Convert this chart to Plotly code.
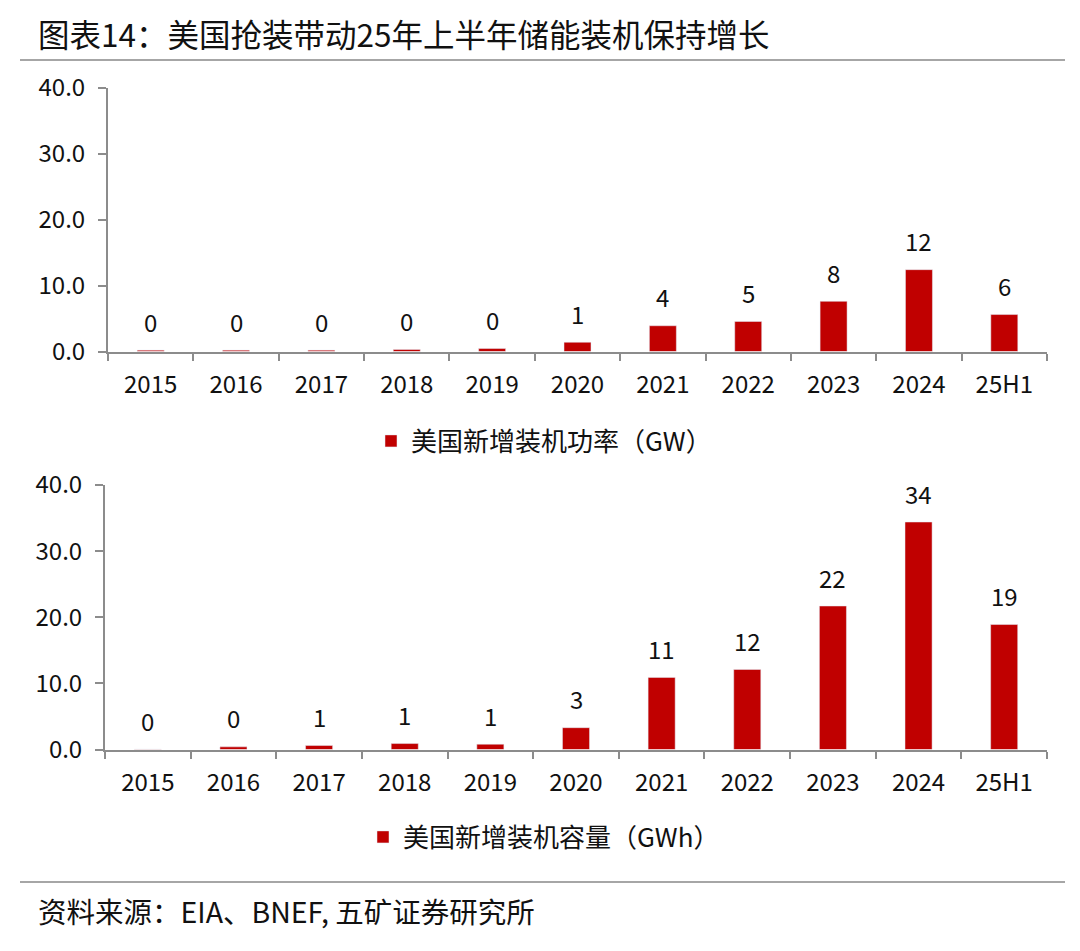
import plotly.graph_objects as go

categories = ["2015", "2016", "2017", "2018", "2019", "2020", "2021", "2022", "2023", "2024", "25H1"]
power_gw = [0.2, 0.2, 0.2, 0.3, 0.45, 1.4, 3.9, 4.55, 7.6, 12.4, 5.6]
capacity_gwh = [0.05, 0.4, 0.6, 0.9, 0.8, 3.3, 10.9, 12.1, 21.7, 34.4, 18.9]
power_name = "美国新增装机功率（GW）"
capacity_name = "美国新增装机容量（GWh）"
title_text = "图表14：美国抢装带动25年上半年储能装机保持增长"
source_text = "资料来源：EIA、BNEF, 五矿证券研究所"
y_ticks = [0, 10, 20, 30, 40]

FONT = "Noto Sans CJK SC"
RED = "#C00000"
AX = "#8C8C8C"
TXT = "#111111"
W, H = 1080, 951
OFF = 8  # page body margin offset compensation


def px(x):
    return (x - OFF) / W


def py(y):
    return 1 - (y - OFF) / H


fig = go.Figure()
fig.add_trace(go.Bar(x=categories, y=power_gw, name=power_name, marker_color=RED,
                     xaxis="x", yaxis="y", legend="legend", showlegend=True))
fig.add_trace(go.Bar(x=categories, y=capacity_gwh, name=capacity_name, marker_color=RED,
                     xaxis="x2", yaxis="y2", legend="legend2", showlegend=True))

annotations = []
for xa, ya, vals in (("x", "y", power_gw), ("x2", "y2", capacity_gwh)):
    for i, v in enumerate(vals):
        annotations.append(dict(x=i, y=v, xref=xa, yref=ya, text=f"{v:.0f}",
                                showarrow=False, yanchor="middle", yshift=29,
                                font=dict(family=FONT, size=24, color=TXT)))

annotations.append(dict(x=px(36), y=py(33), xref="paper", yref="paper", text=title_text,
                        showarrow=False, xanchor="left", yanchor="middle",
                        font=dict(family=FONT, size=31.5, color=TXT)))
annotations.append(dict(x=px(36), y=py(910), xref="paper", yref="paper", text=source_text,
                        showarrow=False, xanchor="left", yanchor="middle",
                        font=dict(family=FONT, size=28.5, color=TXT)))

shapes = [
    dict(type="line", xref="paper", yref="paper", x0=px(20), x1=px(1065),
         y0=py(60), y1=py(60), line=dict(color="#A6A6A6", width=2)),
    dict(type="line", xref="paper", yref="paper", x0=px(20), x1=px(1065),
         y0=py(882), y1=py(882), line=dict(color="#A6A6A6", width=2)),
]


def xaxis(domain, anchor):
    return dict(domain=domain, anchor=anchor, type="category", range=[-0.5, len(categories) - 0.5],
                showline=True, linecolor=AX, linewidth=2, ticks="outside", tickson="boundaries",
                ticklen=7, tickcolor=AX, tickwidth=2, showgrid=False, automargin=False,
                ticklabelstandoff=11, tickangle=0,
                tickfont=dict(family=FONT, size=24, color=TXT), fixedrange=True)


def yaxis(domain, anchor):
    return dict(domain=domain, anchor=anchor, range=[0, 40], tickvals=y_ticks, tickformat=".1f",
                showline=True, linecolor=AX, linewidth=2, ticks="outside", ticklen=8,
                tickcolor=AX, tickwidth=2, showgrid=False, zeroline=False, automargin=False,
                ticklabelstandoff=8,
                tickfont=dict(family=FONT, size=24, color=TXT), fixedrange=True)


fig.update_layout(
    width=W, height=H,
    margin=dict(l=0, r=0, t=0, b=0, pad=0, autoexpand=False),
    paper_bgcolor="white", plot_bgcolor="white",
    bargap=0.684,
    xaxis=xaxis([px(108), px(1047)], "y"),
    yaxis=yaxis([py(351.5), py(87.5)], "x"),
    xaxis2=xaxis([px(105), px(1047)], "y2"),
    yaxis2=yaxis([py(749.5), py(485)], "x2"),
    legend=dict(x=px(544), y=py(441), xanchor="center", yanchor="middle",
                font=dict(family=FONT, size=26, color=TXT), bgcolor="rgba(0,0,0,0)"),
    legend2=dict(x=px(544), y=py(837), xanchor="center", yanchor="middle",
                 font=dict(family=FONT, size=26, color=TXT), bgcolor="rgba(0,0,0,0)"),
    annotations=annotations,
    shapes=shapes,
)

fig.write_html("out.html")
